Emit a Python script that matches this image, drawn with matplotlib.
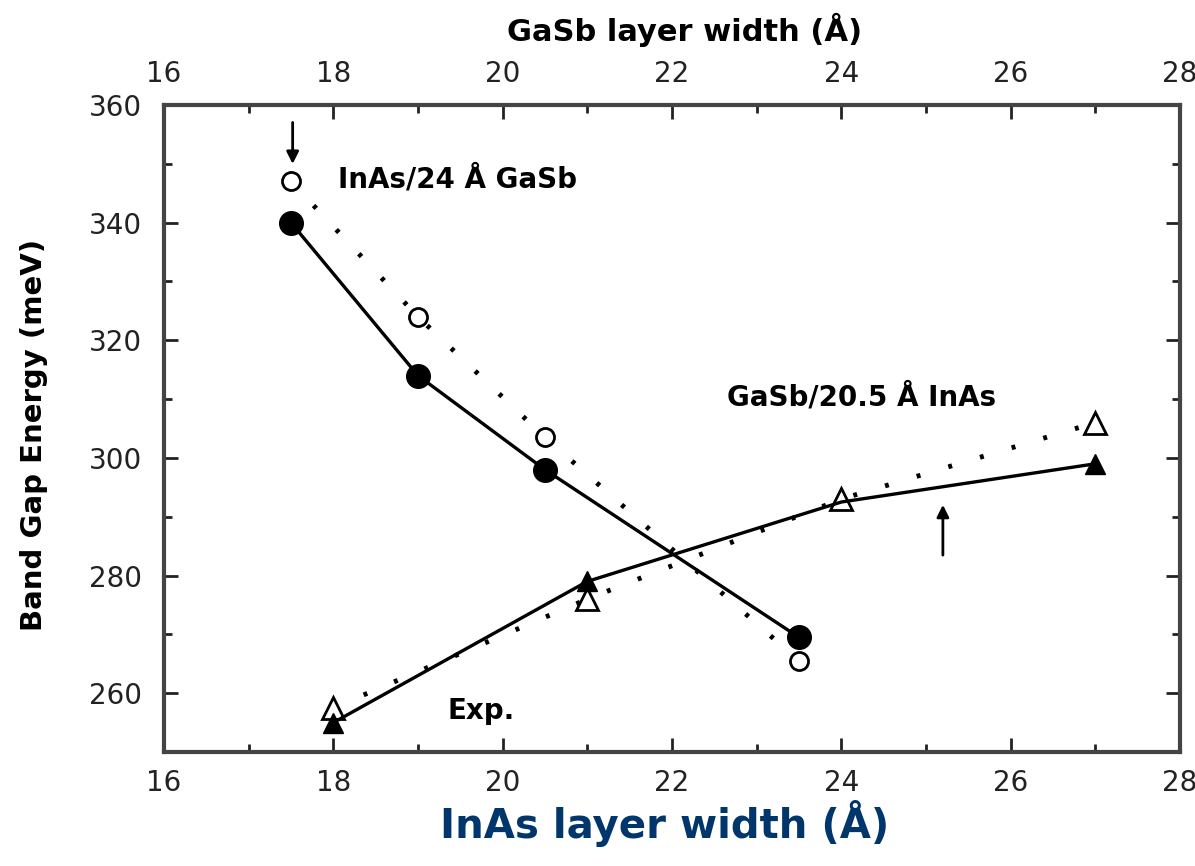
import matplotlib.pyplot as plt
from matplotlib.ticker import MultipleLocator

# InAs/24 A GaSb series (InAs width varies)
inas_x = [17.5, 19.0, 20.5, 23.5]
inas_exp = [340.0, 314.0, 298.0, 269.5]
inas_theory = [347.0, 324.0, 303.5, 265.5]

# GaSb/20.5 A InAs series (GaSb width varies)
gasb_x = [18.0, 21.0, 24.0, 27.0]
gasb_exp = [255.0, 279.0, 292.5, 299.0]
gasb_theory = [257.5, 276.0, 293.0, 306.0]

xticks = [16, 18, 20, 22, 24, 26, 28]
yticks = [260, 280, 300, 320, 340, 360]

plt.rcParams['font.family'] = ['DejaVu Sans']

fig = plt.figure(figsize=(11.95, 8.66), dpi=100)
ax = fig.add_axes([0.1372, 0.1316, 0.8502, 0.7472])

dots = (0, (0.8, 6))
ax.plot(inas_x, inas_theory, color='black', lw=3.5, linestyle=dots)
ax.plot(gasb_x, gasb_theory, color='black', lw=3.5, linestyle=dots)

ax.plot(inas_x, inas_exp, color='black', lw=2.4, marker='o', ms=17, zorder=3)
ax.plot(inas_x, inas_theory, linestyle='none', marker='o', ms=13, mfc='white',
        mec='black', mew=2, zorder=4)

ax.plot(gasb_x, gasb_theory, linestyle='none', marker='^', ms=16, mfc='white',
        mec='black', mew=2, zorder=3)
ax.plot(gasb_x, gasb_exp, color='black', lw=2.4, marker='^', ms=14,
        markevery=[0, 1, 3], zorder=4)

# arrows
ax.annotate('', xy=(17.52, 349.5), xytext=(17.52, 357.5),
            arrowprops=dict(arrowstyle='-|>', color='black', lw=2, mutation_scale=18))
ax.annotate('', xy=(25.2, 292.5), xytext=(25.2, 283.0),
            arrowprops=dict(arrowstyle='-|>', color='black', lw=2, mutation_scale=18))

ax.text(18.05, 347.3, 'InAs/24 Å GaSb', fontsize=20, fontweight='bold', va='center')
ax.text(22.65, 310.3, 'GaSb/20.5 Å InAs', fontsize=20, fontweight='bold', va='center')
ax.text(19.35, 257.0, 'Exp.', fontsize=20, fontweight='bold', va='center')

ax.set_xlim(16, 28)
ax.set_ylim(250, 360)
ax.set_xticks(xticks)
ax.set_yticks(yticks)
ax.xaxis.set_minor_locator(MultipleLocator(1))
ax.yaxis.set_minor_locator(MultipleLocator(10))
ax.tick_params(which='both', direction='in', top=True, right=True,
               labeltop=True, labelsize=20, width=2, colors='#222222')
ax.tick_params(which='major', length=10, pad=12)
ax.tick_params(axis='y', which='major', pad=16)
ax.tick_params(which='minor', length=6)
for s in ax.spines.values():
    s.set_linewidth(3)
    s.set_color('#444444')

ax.set_ylabel('Band Gap Energy (meV)', fontsize=21, fontweight='bold')
ax.yaxis.set_label_coords(-0.114, 0.49)
fig.text(0.5565, 0.049, 'InAs layer width (Å)', fontsize=29, fontweight='bold',
         color='#00366b', ha='center', va='center')
fig.text(0.573, 0.965, 'GaSb layer width (Å)', fontsize=22, fontweight='bold',
         ha='center', va='center')

fig.savefig('out.png', dpi=100)
